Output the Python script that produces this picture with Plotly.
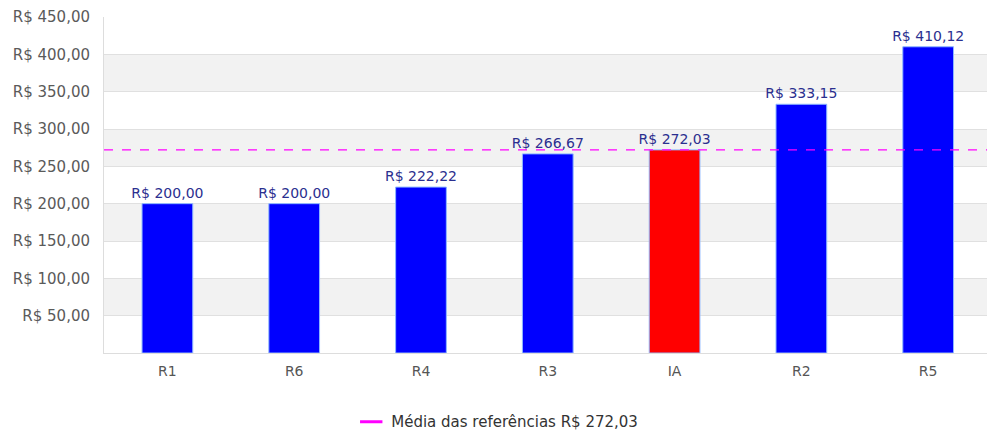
import plotly.graph_objects as go

categories = ["R1", "R6", "R4", "R3", "IA", "R2", "R5"]
values = [200.00, 200.00, 222.22, 266.67, 272.03, 333.15, 410.12]
bar_colors = ["#0000ff", "#0000ff", "#0000ff", "#0000ff", "#ff0000", "#0000ff", "#0000ff"]
mean_value = 272.03
mean_label = "Média das referências R$ 272,03"
tick_values = [50, 100, 150, 200, 250, 300, 350, 400, 450]


def brl(v):
    return "R$ " + f"{v:.2f}".replace(".", ",")


tick_text = [brl(v) for v in tick_values]

FONT = "DejaVu Sans"

fig = go.Figure()

fig.add_trace(go.Bar(
    x=categories, y=values,
    marker=dict(color=bar_colors, line=dict(color="#8fb8ff", width=1)),
    width=0.4,
    text=[brl(v) for v in values],
    textposition="outside",
    constraintext="none",
    textfont=dict(family=FONT, size=14, color="#2b2f8f"),
    cliponaxis=False,
    showlegend=False,
))

# legend entry for the mean line
fig.add_trace(go.Scatter(
    x=[None], y=[None], mode="markers",
    marker=dict(symbol="line-ew-open", size=16, color="#ff00ff", line=dict(color="#ff00ff", width=3)),
    name=mean_label, showlegend=True,
))

# alternating bands
shapes = []
for i, lo in enumerate([0] + tick_values[:-1]):
    hi = tick_values[i]
    if i % 2 == 1:
        shapes.append(dict(type="rect", xref="paper", yref="y", x0=0, x1=1, y0=lo, y1=hi,
                           fillcolor="#f2f2f2", line=dict(width=0), layer="below"))
shapes.append(dict(type="line", xref="paper", yref="y", x0=0, x1=1, y0=mean_value, y1=mean_value,
                   line=dict(color="#ff00ff", width=1.2, dash="dash"), layer="above"))

fig.update_layout(
    width=987, height=432,
    margin=dict(l=104, r=0, t=17, b=79, autoexpand=False),
    plot_bgcolor="white", paper_bgcolor="white",
    font=dict(family=FONT, size=14, color="#555555"),
    shapes=shapes,
    showlegend=True,
    legend=dict(orientation="h", x=0.28, xanchor="left", y=-0.205, yanchor="middle",
                font=dict(family=FONT, size=15, color="#333333")),
    xaxis=dict(range=[-0.5, 6.464], showline=True, linecolor="#dddddd", linewidth=1,
               ticks="outside", ticklen=5, tickcolor="rgba(0,0,0,0)", showgrid=False,
               tickfont=dict(size=14, color="#555555")),
    yaxis=dict(range=[0, 450], tickvals=tick_values, ticktext=tick_text,
               showgrid=True, gridcolor="#e0e0e0", gridwidth=1, zeroline=False,
               showline=True, linecolor="#dddddd", linewidth=1,
               ticks="outside", ticklen=10, tickcolor="rgba(0,0,0,0)",
               tickfont=dict(size=15, color="#5a5a5a")),
)

fig.write_html("out.html")
